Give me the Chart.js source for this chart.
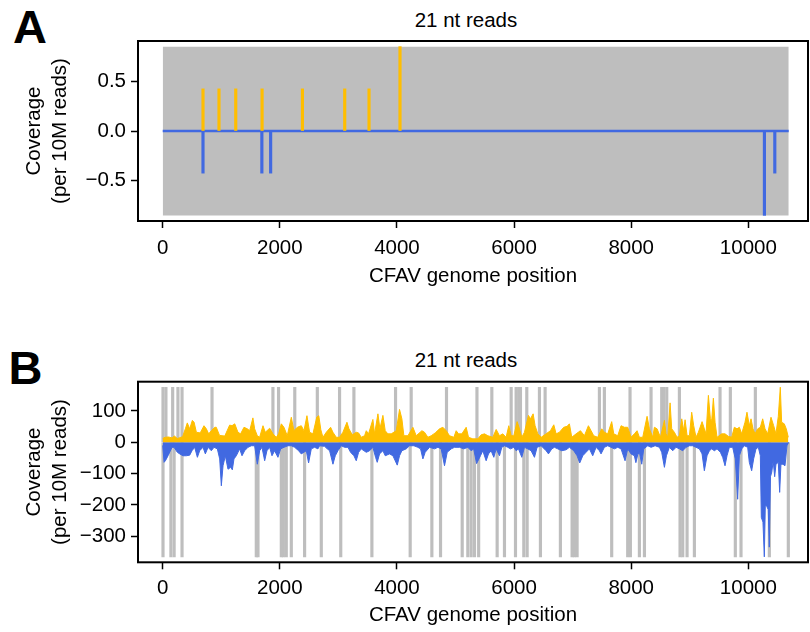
<!DOCTYPE html>
<html>
<head>
<meta charset="utf-8">
<script src="https://cdn.jsdelivr.net/npm/chart.js@4.4.1/dist/chart.umd.min.js"></script>
<style>
  body { margin: 0; background: #fff; }
  #page { position: relative; width: 810px; height: 632px; font-family: "Liberation Sans", Arial, sans-serif; color: #000; }
  .panel { position: absolute; left: 0; }
  .tag { position: absolute; font-weight: bold; font-size: 47px; line-height: 1; }
  .title { position: absolute; left: 366px; width: 200px; text-align: center; font-size: 20.5px; line-height: 20px; }
</style>
</head>
<body>
<div id="page">
  <div class="tag" style="left:13px; top:3px;">A</div>
  <div class="title" style="top:9.6px;">21 nt reads</div>
  <canvas id="chartA" class="panel" style="top:0" width="810" height="300"></canvas>
  <div class="tag" style="left:8.5px; top:343.5px;">B</div>
  <div class="title" style="top:349.6px;">21 nt reads</div>
  <canvas id="chartB" class="panel" style="top:316px" width="810" height="316"></canvas>
</div>
<script>
const genomeLen = 10690;
const xTicks = [0, 2000, 4000, 6000, 8000, 10000];
const aYTicks = [-0.5, 0, 0.5];
const bYTicks = [-300, -200, -100, 0, 100];

// panel A: only a handful of 21 nt reads
const aPlusPos = [688, 961, 1247, 1697, 2386, 3108, 3523, 4052];
const aPlusCov = [0.427, 0.427, 0.427, 0.427, 0.427, 0.427, 0.427, 0.855];
const aMinusPos = [688, 1693, 1843, 10275, 10452];
const aMinusCov = [-0.427, -0.427, -0.427, -0.855, -0.427];

// panel B: plus strand coverage
const bPlusPos = [0, 40, 100, 160, 200, 250, 280, 340, 390, 420, 460, 506, 536, 575, 640, 705, 745, 785, 830, 890,
  915, 970, 1060, 1143, 1183, 1230, 1285, 1330, 1388, 1445, 1485, 1540, 1570, 1615, 1655, 1712, 1752, 1826, 1883, 1940,
  1980, 2025, 2070, 2127, 2196, 2240, 2298, 2366, 2412, 2463, 2508, 2565, 2630, 2665, 2700, 2736, 2793, 2867, 2907, 2964,
  3020, 3077, 3146, 3180, 3237, 3305, 3345, 3390, 3447, 3476, 3515, 3589, 3618, 3675, 3709, 3760, 3800, 3845, 3902, 3988,
  4044, 4084, 4118, 4187, 4272, 4329, 4426, 4471, 4528, 4585, 4653, 4727, 4784, 4841, 4898, 4972, 5011, 5051, 5108, 5182,
  5222, 5296, 5381, 5438, 5495, 5552, 5637, 5694, 5751, 5807, 5864, 5910, 5950, 5995, 6052, 6092, 6132, 6177, 6245, 6280,
  6325, 6359, 6405, 6462, 6547, 6621, 6678, 6718, 6774, 6848, 6905, 6945, 6985, 7059, 7133, 7201, 7269, 7315, 7360, 7429,
  7497, 7542, 7599, 7667, 7702, 7770, 7827, 7884, 7940, 7997, 8054, 8100, 8140, 8197, 8271, 8311, 8368, 8396, 8442, 8499,
  8567, 8595, 8624, 8664, 8692, 8738, 8783, 8823, 8863, 8897, 8920, 8954, 8994, 9033, 9067, 9107, 9147, 9210, 9249, 9278,
  9318, 9352, 9375, 9403, 9432, 9466, 9545, 9602, 9659, 9716, 9761, 9807, 9847, 9887, 9943, 9977, 10017, 10046, 10080, 10114,
  10160, 10205, 10245, 10285, 10330, 10387, 10433, 10472, 10512, 10546, 10569, 10614, 10648, 10683];
const bPlusCov = [12, 16, 17, 14, 20, 12, 14, 18, 45, 62, 43, 70, 64, 32, 30, 53, 43, 27, 37, 48,
  48, 22, 20, 55, 53, 59, 32, 27, 48, 43, 37, 78, 43, 21, 16, 53, 32, 45, 27, 16,
  27, 59, 48, 21, 80, 37, 48, 53, 37, 85, 32, 27, 80, 85, 40, 16, 32, 48, 32, 16,
  16, 32, 64, 43, 24, 32, 30, 16, 21, 37, 27, 73, 27, 91, 43, 86, 37, 27, 27, 37,
  105, 75, 21, 21, 48, 21, 37, 32, 16, 21, 30, 43, 48, 37, 21, 16, 37, 27, 27, 48,
  16, 11, 11, 24, 27, 21, 16, 41, 21, 27, 16, 53, 21, 21, 66, 43, 16, 32, 86, 75,
  91, 53, 27, 16, 27, 37, 56, 27, 32, 48, 51, 59, 16, 27, 37, 21, 53, 37, 21, 16,
  43, 32, 27, 66, 27, 21, 53, 48, 48, 16, 27, 37, 16, 16, 83, 43, 16, 48, 43, 16,
  70, 27, 16, 126, 43, 32, 16, 21, 75, 37, 72, 21, 21, 96, 53, 16, 32, 66, 43, 27,
  150, 75, 70, 141, 64, 16, 27, 27, 19, 16, 48, 43, 48, 27, 64, 96, 53, 75, 43, 27,
  43, 48, 75, 43, 27, 80, 53, 27, 83, 176, 64, 59, 43, 16];

// panel B: minus strand coverage
const bMinusPos = [0, 23, 46, 91, 159, 193, 250, 290, 347, 404, 461, 500, 546, 592, 631, 688, 728, 774, 830, 876,
  933, 973, 1001, 1030, 1069, 1115, 1160, 1189, 1217, 1257, 1314, 1354, 1399, 1456, 1513, 1570, 1615, 1655, 1695, 1741,
  1780, 1826, 1866, 1911, 1968, 2014, 2071, 2139, 2196, 2253, 2321, 2366, 2452, 2491, 2537, 2594, 2651, 2679, 2765, 2810,
  2850, 2907, 2947, 2992, 3049, 3106, 3163, 3208, 3265, 3305, 3345, 3390, 3476, 3533, 3589, 3635, 3663, 3703, 3760, 3800,
  3874, 3931, 4005, 4044, 4084, 4158, 4215, 4289, 4357, 4403, 4443, 4482, 4556, 4642, 4699, 4755, 4812, 4858, 4926, 4983,
  5068, 5142, 5210, 5267, 5310, 5360, 5426, 5466, 5523, 5563, 5608, 5654, 5694, 5751, 5790, 5836, 5893, 5938, 5995, 6035,
  6075, 6132, 6177, 6234, 6291, 6348, 6393, 6462, 6547, 6587, 6644, 6689, 6746, 6814, 6888, 6945, 7019, 7076, 7121, 7173,
  7229, 7286, 7343, 7400, 7457, 7485, 7542, 7599, 7656, 7713, 7770, 7827, 7895, 7940, 7997, 8054, 8080, 8111, 8140, 8180,
  8214, 8283, 8339, 8408, 8482, 8521, 8567, 8601, 8652, 8709, 8766, 8823, 8880, 8937, 8994, 9050, 9107, 9164, 9210, 9249,
  9295, 9335, 9375, 9420, 9466, 9523, 9562, 9602, 9636, 9676, 9733, 9778, 9818, 9847, 9887, 9932, 9989, 10017, 10057, 10091,
  10131, 10171, 10205, 10222, 10250, 10273, 10290, 10315, 10340, 10358, 10378, 10400, 10425, 10450, 10472, 10512, 10535, 10557, 10592, 10626,
  10660, 10690];
const bMinusCov = [-10, -64, -59, -43, -16, -16, -32, -37, -43, -43, -41, -27, -16, -48, -27, -16, -37, -16, -27, -16,
  -21, -53, -139, -75, -43, -86, -80, -88, -53, -43, -21, -43, -27, -16, -11, -11, -70, -27, -16, -59,
  -27, -16, -43, -27, -48, -21, -16, -11, -11, -16, -27, -37, -27, -66, -21, -16, -21, -11, -13, -21,
  -27, -70, -43, -27, -11, -16, -16, -32, -43, -59, -32, -21, -32, -27, -16, -48, -64, -37, -27, -43,
  -37, -43, -73, -43, -27, -21, -11, -11, -16, -21, -53, -32, -16, -21, -16, -21, -75, -32, -21, -16,
  -16, -21, -16, -27, -21, -68, -43, -27, -59, -37, -27, -48, -21, -43, -16, -11, -16, -21, -16, -27,
  -21, -48, -16, -21, -27, -48, -16, -11, -27, -37, -21, -16, -21, -27, -24, -16, -27, -43, -66, -43,
  -32, -21, -43, -16, -27, -37, -16, -11, -16, -21, -16, -21, -59, -21, -37, -43, -65, -40, -32, -70,
  -21, -11, -16, -11, -16, -32, -80, -43, -16, -27, -16, -21, -27, -16, -11, -11, -16, -21, -37, -91,
  -43, -27, -21, -27, -21, -32, -48, -75, -43, -16, -16, -53, -182, -43, -21, -11, -16, -64, -91, -53,
  -21, -16, -43, -240, -255, -366, -200, -205, -215, -335, -110, -95, -60, -110, -70, -64, -160, -70, -70, -75,
  -11, 0];

// positions without coverage (grey marks), per strand
const bPlusGapPos = [5, 55, 170, 260, 330, 842, 1882, 1978, 2255, 2640, 3020, 3265, 3976, 4243, 4846, 5366, 5620, 5950,
  6035, 6081, 6109, 6217, 6433, 6530, 7457, 7542, 7980, 8339, 8521, 8556, 8607, 8823, 9517, 9693, 10120];
const bMinusGapPos = [5, 140, 195, 330, 1598, 1627, 2025, 2060, 2110, 2196, 2423, 2708, 3040, 3572, 4226, 4596, 4744,
  5114, 5210, 5267, 5324, 5395, 5711, 5836, 6024, 6166, 6223, 6450, 6791, 6991, 7030, 7076, 7667, 7940, 7986, 8140,
  8226, 8834, 8880, 8954, 9079, 9778, 9875, 10359, 10683];

const ORANGE = '#FFBE00';
const BLUE = '#4169E1';
const GRAY = '#BEBEBE';
const FONT = { family: '"Liberation Sans", Arial, sans-serif', size: 20.5 };

const pts = (xs, ys) => xs.map((x, i) => ({ x, y: ys[i] }));
const minus = s => s.replace('-', '\u2212');

// R style closed box round the plot region
const boxPlugin = {
  id: 'box',
  afterDraw(chart) {
    const { ctx, chartArea: a } = chart;
    ctx.save();
    ctx.lineWidth = 2;
    ctx.strokeStyle = '#000';
    ctx.strokeRect(a.left, a.top, a.right - a.left, a.bottom - a.top);
    ctx.restore();
  }
};

function panel(id, o) {
  const canvas = document.getElementById(id);
  const H = canvas.height;
  const grid = { drawOnChartArea: false, tickLength: 7, tickWidth: 1.5, tickColor: '#000', offset: false };
  return new Chart(canvas, {
    type: 'bar',
    data: { datasets: o.datasets },
    options: {
      responsive: false,
      animation: false,
      devicePixelRatio: 1,
      layout: { padding: { top: o.top, right: 2, left: 0, bottom: 0 } },
      plugins: { legend: { display: false }, tooltip: { enabled: false } },
      scales: {
        x: {
          type: 'linear', min: -422, max: 11019, offset: false,
          afterBuildTicks: s => { s.ticks = xTicks.map(v => ({ value: v })); },
          afterFit: s => { s.height = H - o.bottom; },
          grid,
          border: { display: false },
          ticks: { color: '#000', font: FONT, padding: o.xPad, maxRotation: 0, autoSkip: false,
                   callback: v => String(v) },
          title: { display: true, text: 'CFAV genome position', color: '#000', font: FONT,
                   padding: { top: 0, bottom: o.titlePad } }
        },
        y: {
          type: 'linear', min: o.yMin, max: o.yMax,
          afterBuildTicks: s => { s.ticks = o.yTicks.map(v => ({ value: v })); },
          afterFit: s => { s.width = 138; },
          grid,
          border: { display: false },
          ticks: { color: '#000', font: FONT, padding: 5, autoSkip: false, callback: o.fmt },
          title: { display: true, text: ['Coverage', '(per 10M reads)'], color: '#000',
                   font: { ...FONT, lineHeight: 1.27 }, padding: { top: 21, bottom: 0 } }
        }
      }
    },
    plugins: [boxPlugin]
  });
}

// panel A
const aTop = Math.max(...aPlusCov);
const aBot = Math.min(...aMinusCov);
panel('chartA', {
  top: 41, bottom: 221, xPad: 8, titlePad: 11,
  yMin: -0.912, yMax: 0.912, yTicks: aYTicks,
  fmt: v => minus(v.toFixed(1)),
  datasets: [
    { type: 'line', data: [{ x: 0, y: aTop }, { x: genomeLen, y: aTop }], fill: '+1',
      backgroundColor: GRAY, borderWidth: 0, pointRadius: 0, order: 5 },
    { type: 'line', data: [{ x: 0, y: aBot }, { x: genomeLen, y: aBot }], fill: false,
      borderWidth: 0, pointRadius: 0, order: 5 },
    { type: 'line', data: [{ x: 0, y: 0 }, { x: genomeLen, y: 0 }], borderColor: BLUE,
      borderWidth: 2.5, pointRadius: 0, order: 2 },
    { type: 'bar', data: pts(aPlusPos, aPlusCov), backgroundColor: ORANGE, barThickness: 2.5, grouped: false, order: 1 },
    { type: 'bar', data: pts(aMinusPos, aMinusCov), backgroundColor: BLUE, barThickness: 2.5, grouped: false, order: 1 }
  ]
});

// panel B
const bTop = Math.max(...bPlusCov);
const bBot = Math.min(...bMinusCov);
panel('chartB', {
  top: 65.7, bottom: 246.3, xPad: 7, titlePad: 4,
  yMin: -383.4, yMax: 193.6, yTicks: bYTicks,
  fmt: v => minus(String(v)),
  datasets: [
    { type: 'bar', data: pts(bPlusGapPos, bPlusGapPos.map(() => bTop)), backgroundColor: GRAY,
      barThickness: 2.5, grouped: false, order: 4 },
    { type: 'bar', data: pts(bMinusGapPos, bMinusGapPos.map(() => bBot)), backgroundColor: GRAY,
      barThickness: 2.5, grouped: false, order: 4 },
    { type: 'line', data: pts(bPlusPos, bPlusCov), borderColor: ORANGE, backgroundColor: ORANGE,
      borderWidth: 1, pointRadius: 0, fill: 'origin', order: 1 },
    { type: 'line', data: pts(bMinusPos, bMinusCov), borderColor: BLUE, backgroundColor: BLUE,
      borderWidth: 1, pointRadius: 0, fill: 'origin', order: 1 }
  ]
});
</script>
</body>
</html>
